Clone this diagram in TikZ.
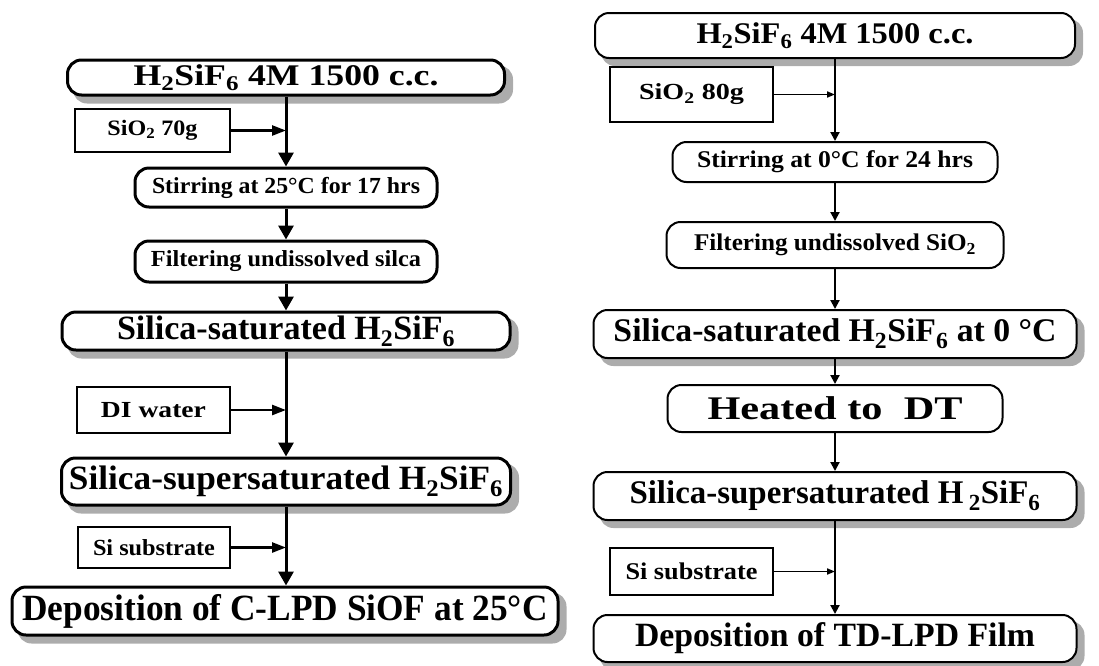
\documentclass[tikz,border=0pt]{standalone}
\usepackage{fontspec}
\setmainfont{Liberation Serif}
\usepackage{graphicx}
\usetikzlibrary{arrows.meta,backgrounds}
\newcommand{\Tx}[3]{\fontsize{#1}{#1}\selectfont\resizebox{#2pt}{\height}{#3}}
\newcommand{\HSiF}{H\textsubscript{2}SiF\textsubscript{6}}
\newcommand{\shadowof}[1]{\fill[shadowfill] ([shift={(7pt,-7pt)}]#1.south west) rectangle ([shift={(7pt,-7pt)}]#1.north east);}
\tikzset{
  lbox/.style={draw, line width=3pt, rounded corners=14pt, inner sep=0pt, font=\bfseries, fill=white},
  rbox/.style={draw, line width=2pt, rounded corners=14pt, inner sep=0pt, font=\bfseries, fill=white},
  shadowfill/.style={fill=gray!65, rounded corners=14pt},
  lsq/.style={draw, line width=2.5pt, inner sep=0pt, font=\bfseries, fill=white},
  rsq/.style={draw, line width=1.8pt, inner sep=0pt, font=\bfseries, fill=white},
  larr/.style={line width=3pt, -{Triangle[width=15pt,length=14pt]}},
  lbr/.style={line width=2.5pt, -{Triangle[width=10pt,length=14pt]}},
  rarr/.style={line width=2pt, -{Triangle[width=9pt,length=9pt]}},
  rbr/.style={line width=1.8pt, -{Triangle[width=6pt,length=8pt]}},
}
\begin{document}
\begin{tikzpicture}[x=1pt,y=-1pt]
\useasboundingbox (0,0) rectangle (1099,665);
% ---------- left column ----------
\node[lbox,minimum width=437pt,minimum height=35pt] (topL) at (286,77.5) {\Tx{30}{305}{\HSiF\ 4M 1500 c.c.}};
\node[lsq,minimum width=155pt,minimum height=43pt] (sio2L) at (152.5,130.5) {\Tx{22}{90}{SiO\textsubscript{2} 70g}};
\node[lbox,minimum width=302pt,minimum height=39pt] (stirL) at (286,187.5) {\Tx{23}{268}{Stirring at 25°C for 17 hrs}};
\node[lbox,minimum width=302pt,minimum height=41pt] (filtL) at (286,261.5) {\Tx{23}{270}{Filtering undissolved silca}};
\node[lbox,minimum width=448pt,minimum height=38pt] (satL) at (286,331) {\Tx{34}{338}{Silica-saturated \HSiF}};
\node[lsq,minimum width=153pt,minimum height=46pt] (diL) at (153.5,410) {\Tx{23}{105}{DI water}};
\node[lbox,minimum width=449pt,minimum height=47pt] (supL) at (286,481.5) {\Tx{34}{434}{Silica-supersaturated \HSiF}};
\node[lsq,minimum width=152pt,minimum height=41pt] (siL) at (154,547.5) {\Tx{23}{122}{Si substrate}};
\node[lbox,minimum width=546pt,minimum height=48pt] (depL) at (285,611) {\Tx{37}{525}{Deposition of C-LPD SiOF at 25°C}};
\draw[larr] (topL.south) -- (stirL.north);
\draw[lbr] (sio2L.east) -- (sio2L.east -| topL.south);
\draw[larr] (stirL.south) -- (filtL.north);
\draw[larr] (filtL.south) -- (satL.north);
\draw[larr] (satL.south) -- (supL.north);
\draw[lbr] (diL.east) -- (diL.east -| satL.south);
\draw[larr] (supL.south) -- (depL.north -| supL.south);
\draw[lbr] (siL.east) -- (siL.east -| supL.south);
% ---------- right column ----------
\node[rbox,minimum width=480pt,minimum height=45pt] (topR) at (835,35.5) {\Tx{30}{277}{\HSiF\ 4M 1500 c.c.}};
\node[rsq,minimum width=163pt,minimum height=55pt] (sio2R) at (691.5,94.5) {\Tx{23}{105}{SiO\textsubscript{2} 80g}};
\node[rbox,minimum width=325pt,minimum height=40pt] (stirR) at (835,162) {\Tx{24}{276}{Stirring at 0°C for 24 hrs}};
\node[rbox,minimum width=337pt,minimum height=46pt] (filtR) at (835,245) {\Tx{24}{282}{Filtering undissolved SiO\textsubscript{2}}};
\node[rbox,minimum width=483pt,minimum height=48pt] (satR) at (835,334) {\Tx{33}{443}{Silica-saturated \HSiF\ at 0 °C}};
\node[rbox,minimum width=335pt,minimum height=47pt] (heatR) at (835,408.5) {\Tx{33}{255}{Heated to~~DT}};
\node[rbox,minimum width=483pt,minimum height=48pt] (supR) at (835,496) {\Tx{33}{411}{Silica-supersaturated H\,\textsubscript{2}SiF\textsubscript{6}}};
\node[rsq,minimum width=163pt,minimum height=47pt] (siR) at (691.5,571.5) {\Tx{24}{132}{Si substrate}};
\node[rbox,minimum width=483pt,minimum height=47pt] (depR) at (835,638.5) {\Tx{34}{400}{Deposition of TD-LPD Film}};
\draw[rarr] (topR.south) -- (stirR.north);
\draw[rbr] (sio2R.east) -- (sio2R.east -| topR.south);
\draw[rarr] (stirR.south) -- (filtR.north);
\draw[rarr] (filtR.south) -- (satR.north);
\draw[rarr] (satR.south) -- (heatR.north);
\draw[rarr] (heatR.south) -- (supR.north);
\draw[rarr] (supR.south) -- (depR.north);
\draw[rbr] (siR.east) -- (siR.east -| supR.south);
% ---------- shadows ----------
\begin{scope}[on background layer]
\shadowof{topL}\shadowof{satL}\shadowof{supL}\shadowof{depL}
\shadowof{topR}\shadowof{satR}\shadowof{supR}\shadowof{depR}
\end{scope}
\end{tikzpicture}
\end{document}
